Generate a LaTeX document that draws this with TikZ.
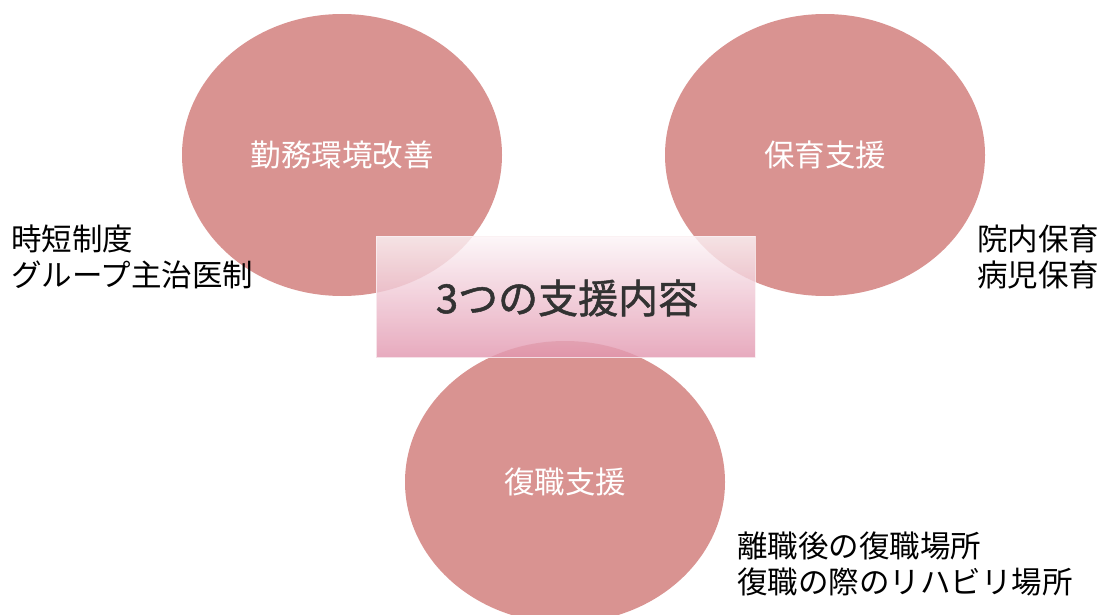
\documentclass[tikz,border=0pt]{standalone}
\usepackage{fontspec}
\newfontfamily\jp{Noto Sans CJK JP}
\newfontfamily\jpmed[FakeBold=1.3]{Noto Sans CJK JP}
\definecolor{circ}{RGB}{217,147,145}
\definecolor{bannerpink}{RGB}{226,152,176}
\definecolor{bannertext}{RGB}{50,50,50}
\tikzset{
  bub/.style={ellipse, fill=circ, minimum width=320pt, minimum height=282pt, inner sep=0pt},
  bubtext/.style={text=white, font=\jp\fontsize{30.5}{36}\selectfont},
  side/.style={align=left, font=\jp\fontsize{30.5}{35.5}\selectfont, text=black, inner sep=0pt},
  banner/.style={draw=white!85!bannerpink, line width=0.8pt, top color=white!90!bannerpink, middle color=white!97!bannerpink, bottom color=bannerpink, fill opacity=0.82, draw opacity=0.8, minimum width=379pt, minimum height=121pt, inner sep=0pt}
}
\usetikzlibrary{shapes.geometric}
\begin{document}
\begin{tikzpicture}[x=1pt,y=-1pt]
\useasboundingbox (0,0) rectangle (1103,615);
\node[bub] (kinmu) at (342,155) {};
\node[bub] (hoiku) at (825,155) {};
\node[bub] (fukushoku) at (565,482) {};
\node[banner] (banner) at (565.5,296.5) {};
\node[text=bannertext, font=\jpmed\fontsize{40}{44}\selectfont] (title) at (567,298) {3つの支援内容};
\node[bubtext] (t1) at (kinmu) {勤務環境改善};
\node[bubtext] (t2) at (hoiku) {保育支援};
\node[bubtext] (t3) at (fukushoku) {復職支援};
\node[side, anchor=west] (s1) at (11,257) {時短制度\\グループ主治医制};
\node[side, anchor=west] (s2) at (977,257) {院内保育\\病児保育};
\node[side, anchor=west] (s3) at (737,564) {離職後の復職場所\\復職の際のリハビリ場所};
\end{tikzpicture}
\end{document}
